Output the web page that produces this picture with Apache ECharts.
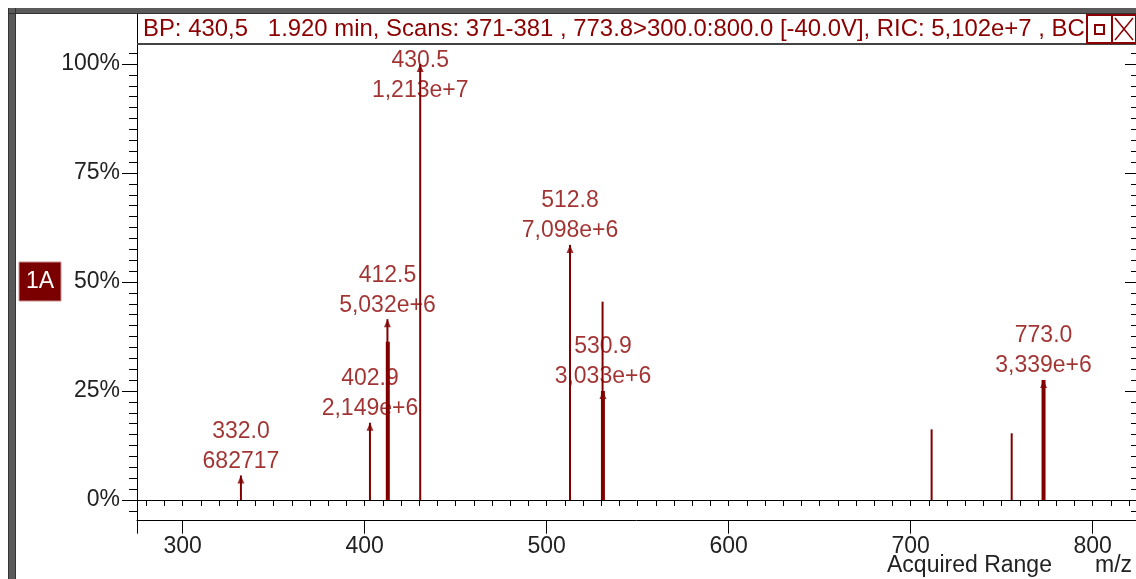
<!DOCTYPE html>
<html><head><meta charset="utf-8">
<script src="https://cdn.jsdelivr.net/npm/echarts@6/dist/echarts.min.js"></script>
<style>html,body{margin:0;padding:0;background:#fff;}#c{width:1136px;height:579px;}</style>
</head><body><div id="c"></div>
<script>
// ---- data ----
const titleText = 'BP: 430,5   1.920 min, Scans: 371-381 , 773.8>300.0:800.0 [-40.0V], RIC: 5,102e+7 , BC';
const xTickValues = [300, 400, 500, 600, 700, 800];
const yTickValues = [0, 25, 50, 75, 100];
const yTickLabels = ['0%', '25%', '50%', '75%', '100%'];
const xAxisTitle = 'Acquired Range';
const xAxisUnit = 'm/z';
const traceTag = '1A';

// labelled peaks (m/z, relative abundance %, intensity text)
const labeledMz = [332.0, 402.9, 412.5, 430.5, 512.8, 530.9, 773.0];
const labeledPct = [5.63, 17.72, 41.48, 100, 58.52, 25.0, 27.53];
const labeledIntensity = ['682717', '2,149e+6', '5,032e+6', '1,213e+7', '7,098e+6', '3,033e+6', '3,339e+6'];

// thin sticks
const thinMz = [332.0, 402.9, 412.5, 430.5, 512.8, 530.7, 711.5, 755.5];
const thinPct = [5.63, 17.72, 41.48, 100, 58.52, 45.5, 16.2, 15.3];
// thick sticks
const thickMz = [412.7, 530.9, 773.0];
const thickPct = [36.3, 25.0, 27.53];

// ---- styling ----
const RED = '#800000';
const TXT_RED = '#8b0000';
const FONT = 'Liberation Sans, Arial, sans-serif';
const FS = 23;
const X_MIN = 274.9, X_MAX = 823.8;
const Y_MIN = -4.75, Y_MAX = 104.6;

const xMinor = []; for (let v = 280; v <= 820; v += 10) xMinor.push(v);
const yMinor = []; for (let v = -2.5; v <= 102.5; v += 2.5) yMinor.push(v);

function stickSeries(mz, pct, width) {
  return {
    type: 'custom',
    xAxisIndex: 0, yAxisIndex: 0,
    data: mz.map((m, i) => [m, pct[i]]),
    renderItem: function (params, api) {
      const p0 = api.coord([api.value(0), 0]);
      const p1 = api.coord([api.value(0), api.value(1)]);
      return {
        type: 'line',
        shape: { x1: p0[0], y1: p0[1], x2: p1[0], y2: p1[1] },
        style: { stroke: RED, lineWidth: width }
      };
    },
    z: 3, silent: true
  };
}

const chart = echarts.init(document.getElementById('c'), null, { renderer: 'canvas' });

const thinS = stickSeries(thinMz, thinPct, 2);
thinS.markLine = {
  silent: true, symbol: 'none', label: { show: false },
  lineStyle: { color: '#000', width: 1, type: 'solid' },
  data: [{ yAxis: 0 }]
};

const option = {
  animation: false,
  backgroundColor: '#fff',
  grid: { left: 137, right: 0, top: 44, bottom: 58.3, containLabel: false, outerBoundsMode: 'none' },
  xAxis: [
    {
      type: 'value', min: X_MIN, max: X_MAX, position: 'bottom',
      axisLine: { show: true, onZero: false, lineStyle: { color: '#000', width: 1 } },
      axisTick: { show: true, customValues: [X_MIN].concat(xTickValues), length: 13, lineStyle: { color: '#000' } },
      axisLabel: { customValues: xTickValues, margin: 14, fontSize: FS, fontFamily: FONT, color: '#222' },
      splitLine: { show: false }
    },
    {
      type: 'value', min: X_MIN, max: X_MAX, position: 'bottom',
      axisLine: { show: false },
      axisTick: { show: true, customValues: xMinor, length: 6, lineStyle: { color: '#000' } },
      axisLabel: { show: false }, splitLine: { show: false }
    }
  ],
  yAxis: [
    {
      type: 'value', min: Y_MIN, max: Y_MAX, position: 'left',
      axisLine: { show: true, onZero: false, lineStyle: { color: '#000', width: 1 } },
      axisTick: { show: true, customValues: yTickValues, length: 15, lineStyle: { color: '#000' } },
      axisLabel: {
        customValues: yTickValues, margin: 17, fontSize: FS, fontFamily: FONT, color: '#222',
        formatter: v => yTickLabels[yTickValues.indexOf(v)]
      },
      splitLine: { show: false }
    },
    {
      type: 'value', min: Y_MIN, max: Y_MAX, position: 'left',
      axisLine: { show: false },
      axisTick: { show: true, customValues: yMinor, length: 8, lineStyle: { color: '#000' } },
      axisLabel: { show: false }, splitLine: { show: false }
    },
    {
      type: 'value', min: Y_MIN, max: Y_MAX, position: 'right',
      axisLine: { show: false },
      axisTick: { show: true, inside: true, customValues: yTickValues, length: 11, lineStyle: { color: '#000' } },
      axisLabel: { show: false }, splitLine: { show: false }
    },
    {
      type: 'value', min: Y_MIN, max: Y_MAX, position: 'right',
      axisLine: { show: false },
      axisTick: { show: true, inside: true, customValues: yMinor, length: 5, lineStyle: { color: '#000' } },
      axisLabel: { show: false }, splitLine: { show: false }
    }
  ],
  series: [
    thinS,
    stickSeries(thickMz, thickPct, 4),
    {
      type: 'scatter', xAxisIndex: 0, yAxisIndex: 0, silent: true, z: 4,
      symbol: 'triangle', symbolSize: [7, 8], symbolOffset: [0, 4],
      itemStyle: { color: RED },
      data: labeledMz.map((m, i) => {
        const item = { value: [m, labeledPct[i]] };
        if (labeledPct[i] > 90) item.label = { position: 'inside', offset: [0, 8] };
        return item;
      }),
      label: {
        show: true, position: 'top', distance: -1,
        fontSize: FS, fontFamily: FONT, color: TXT_RED, lineHeight: 30, align: 'center',
        formatter: p => labeledMz[p.dataIndex].toFixed(1) + '\n' + labeledIntensity[p.dataIndex]
      }
    }
  ],
  graphic: [
    // window frame
    { type: 'rect', shape: { x: 8, y: 8, width: 1128, height: 6 }, style: { fill: '#5a5a5a' }, z: 10 },
    { type: 'line', shape: { x1: 8, y1: 13.5, x2: 1136, y2: 13.5 }, style: { stroke: '#333', lineWidth: 1 }, z: 11 },
    { type: 'rect', shape: { x: 8, y: 8, width: 8, height: 571 }, style: { fill: '#5a5a5a' }, z: 10 },
    { type: 'line', shape: { x1: 15.5, y1: 8, x2: 15.5, y2: 579 }, style: { stroke: '#333', lineWidth: 1 }, z: 11 },
    { type: 'line', shape: { x1: 8.5, y1: 8, x2: 8.5, y2: 579 }, style: { stroke: '#333', lineWidth: 1 }, z: 11 },
    // title bar
    { type: 'line', shape: { x1: 137.5, y1: 14, x2: 137.5, y2: 44 }, style: { stroke: '#000', lineWidth: 1 }, z: 10 },
    { type: 'line', shape: { x1: 137, y1: 44, x2: 1136, y2: 44 }, style: { stroke: '#444', lineWidth: 2 }, z: 10 },
    { type: 'text', x: 143, y: 29, style: { text: titleText, fill: TXT_RED, font: '23.9px ' + FONT, verticalAlign: 'middle' }, z: 10 },
    { type: 'rect', shape: { x: 1087, y: 15, width: 25, height: 28 }, style: { fill: '#fff', stroke: TXT_RED, lineWidth: 2 }, z: 12 },
    { type: 'rect', shape: { x: 1095, y: 25, width: 9, height: 9 }, style: { fill: 'none', stroke: TXT_RED, lineWidth: 2 }, z: 13 },
    { type: 'rect', shape: { x: 1112, y: 15, width: 24, height: 28 }, style: { fill: '#fff', stroke: TXT_RED, lineWidth: 2 }, z: 12 },
    { type: 'line', shape: { x1: 1115, y1: 18, x2: 1133, y2: 40 }, style: { stroke: TXT_RED, lineWidth: 1.5 }, z: 13 },
    { type: 'line', shape: { x1: 1133, y1: 18, x2: 1115, y2: 40 }, style: { stroke: TXT_RED, lineWidth: 1.5 }, z: 13 },
    // trace tag
    { type: 'rect', shape: { x: 19, y: 262, width: 42, height: 39 }, style: { fill: '#7a0000', stroke: '#c89090', lineWidth: 1 }, z: 10 },
    { type: 'text', x: 40, y: 282, style: { text: traceTag, fill: '#fff', font: FS + 'px ' + FONT, align: 'center', verticalAlign: 'middle' }, z: 11 },
    // axis titles
    { type: 'text', x: 887, y: 566, style: { text: xAxisTitle, fill: '#222', font: FS + 'px ' + FONT, verticalAlign: 'middle' }, z: 10 },
    { type: 'text', x: 1095, y: 566, style: { text: xAxisUnit, fill: '#222', font: FS + 'px ' + FONT, verticalAlign: 'middle' }, z: 10 }
  ]
};
chart.setOption(option);
</script>
</body></html>
